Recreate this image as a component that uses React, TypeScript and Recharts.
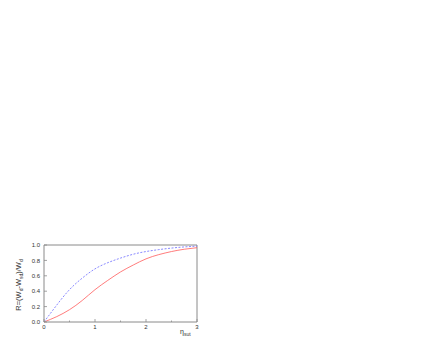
import { LineChart, Line, XAxis, YAxis, Label, ReferenceLine } from "recharts";

const eta = [0, 0.25, 0.5, 0.75, 1, 1.25, 1.5, 1.75, 2, 2.25, 2.5, 2.75, 3];
const redR = [0, 0.07, 0.16, 0.28, 0.42, 0.54, 0.65, 0.74, 0.82, 0.875, 0.915, 0.945, 0.965];
const blueR = [0, 0.22, 0.42, 0.57, 0.69, 0.77, 0.83, 0.88, 0.915, 0.94, 0.96, 0.975, 0.985];

const xTicks = [0, 0.5, 1, 1.5, 2, 2.5, 3];
const yTicks = [0, 0.2, 0.4, 0.6, 0.8, 1.0];

const data = eta.map((e, i) => ({ eta: e, red: redR[i], blue: blueR[i] }));

const axisColor = "#8a8a8a";
const font = "Arial, 'Liberation Sans', sans-serif";

const BottomTick = ({ x, y, payload }: any) => {
  const v = payload.value;
  const major = Number.isInteger(v);
  const ay = y - 2;
  return (
    <g>
      <line x1={x} y1={ay} x2={x} y2={ay - (major ? 3 : 1.5)} stroke={axisColor} strokeWidth={0.8} />
      {major && (
        <text x={x} y={y} dy="0.75em" textAnchor="middle" fontSize={6} fontFamily={font} fill="#333">
          {v}
        </text>
      )}
    </g>
  );
};

const TopTick = ({ x, y, payload }: any) => {
  const major = Number.isInteger(payload.value);
  return <line x1={x} y1={y} x2={x} y2={y + (major ? 3 : 1.5)} stroke={axisColor} strokeWidth={0.8} />;
};

const LeftTick = ({ x, y, payload }: any) => {
  const ax = x + 4;
  return (
    <g>
      <line x1={ax} y1={y} x2={ax + 3} y2={y} stroke={axisColor} strokeWidth={0.8} />
      <text x={x} y={y} dy="0.35em" textAnchor="end" fontSize={6} fontFamily={font} fill="#333">
        {payload.value.toFixed(1)}
      </text>
    </g>
  );
};

const RightTick = ({ x, y }: any) => (
  <line x1={x} y1={y} x2={x - 3} y2={y} stroke={axisColor} strokeWidth={0.8} />
);

export default function App() {
  return (
    <div style={{ position: "fixed", left: 0, top: 0, width: 436, height: 343, background: "#fff" }}>
      <LineChart width={436} height={343} data={data} margin={{ top: 245, right: 239, bottom: 1, left: 14 }}>
        <XAxis
          dataKey="eta"
          type="number"
          domain={[0, 3]}
          ticks={xTicks}
          interval={0}
          tickSize={0}
          tickMargin={2}
          height={20}
          tick={<BottomTick />}
          stroke={axisColor}
        >
          <Label
            content={() => (
              <text x={180} y={334} fontSize={7} fontFamily={font} fill="#333">
                η
                <tspan fontSize={5} dy={1.5}>sut</tspan>
              </text>
            )}
          />
        </XAxis>
        <XAxis
          xAxisId="top"
          orientation="top"
          dataKey="eta"
          type="number"
          domain={[0, 3]}
          ticks={xTicks}
          interval={0}
          tickSize={0}
          tickMargin={0}
          height={0}
          tick={<TopTick />}
          stroke={axisColor}
        />
        <YAxis
          type="number"
          domain={[0, 1]}
          ticks={yTicks}
          interval={0}
          tickSize={0}
          tickMargin={4}
          width={30}
          tick={<LeftTick />}
          stroke={axisColor}
        >
          <Label
            content={() => (
              <text
                x={0}
                y={0}
                transform="translate(21,285) rotate(-90)"
                textAnchor="middle"
                fontSize={7.5}
                fontFamily={font}
                fill="#333"
              >
                R=(W<tspan fontSize={5} dy={1.5}>d</tspan>
                <tspan dy={-1.5}>-W</tspan>
                <tspan fontSize={5} dy={1.5}>sd</tspan>
                <tspan dy={-1.5}>)/W</tspan>
                <tspan fontSize={5} dy={1.5}>d</tspan>
              </text>
            )}
          />
        </YAxis>
        <YAxis
          yAxisId="right"
          orientation="right"
          type="number"
          domain={[0, 1]}
          ticks={yTicks}
          interval={0}
          tickSize={0}
          tickMargin={0}
          width={0}
          tick={<RightTick />}
          stroke={axisColor}
        />
        <ReferenceLine y={1} stroke={axisColor} />
        <ReferenceLine x={3} stroke={axisColor} />
        <Line
          xAxisId="top"
          yAxisId="right"
          dataKey="red"
          stroke="none"
          dot={false}
          legendType="none"
          isAnimationActive={false}
        />
        <Line
          type="natural"
          dataKey="red"
          stroke="#ff5a5a"
          strokeWidth={0.8}
          dot={false}
          isAnimationActive={false}
        />
        <Line
          type="natural"
          dataKey="blue"
          stroke="#6a6aff"
          strokeWidth={0.8}
          strokeDasharray="2 1.5"
          dot={false}
          isAnimationActive={false}
        />
      </LineChart>
    </div>
  );
}
